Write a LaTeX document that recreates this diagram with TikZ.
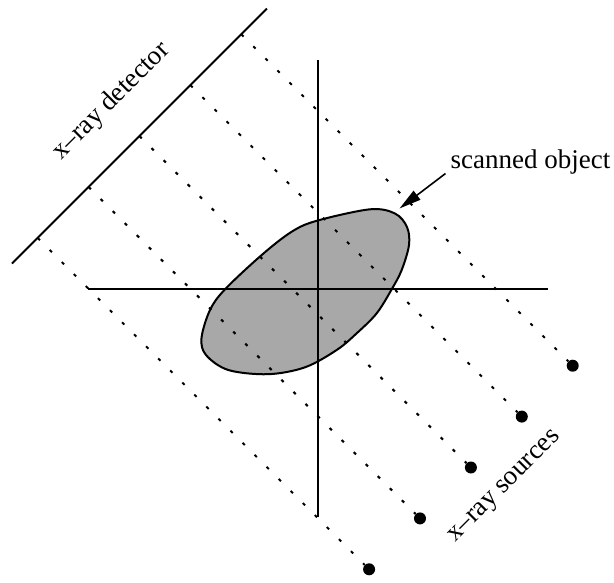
\documentclass[tikz,border=0pt]{standalone}
\usepackage{fontspec}
\setmainfont{Liberation Serif}
\usetikzlibrary{arrows.meta}
\definecolor{objgray}{gray}{0.66}
\begin{document}
\begin{tikzpicture}[x=1pt,y=-1pt,
  ax/.style={line width=2pt},
  ray/.style={line width=2pt, dash pattern=on 3.2pt off 13.84pt},
  src/.style={circle, fill=black, draw=none, inner sep=0pt, minimum size=12pt},
  lbl/.style={font=\fontsize{27}{32}\selectfont, inner sep=0pt},
  obj/.style={line width=2pt, draw=black, fill=objgray},
  pointer/.style={line width=1.6pt, -{Triangle[length=22pt,width=11pt]}}]
\useasboundingbox (0,0) rectangle (614,582);
% scanned object
\draw[obj] plot[smooth cycle, tension=0.55] coordinates {
  (317,220.7) (370,209.3) (395,213.5) (407,227) (409,245) (401.7,270)
  (391.7,289.3) (376.7,313.3) (356.7,333.3) (336.7,350) (305,367.3)
  (268,374.2) (228.3,370) (206,355) (201.5,338) (210,310) (225,289.3)
  (261.7,255) (291.7,231.7)};
% axes
\coordinate (ytop) at (317.5,60);
\coordinate (ybot) at (317.5,517);
\coordinate (xl) at (88,288.5);
\coordinate (xr) at (547.5,288.5);
\draw[ax] (ytop) -- (ybot);
\draw[ax] (xl) -- (xr);
% detector
\coordinate (detA) at (12,263.5);
\coordinate (detB) at (267,8.5);
\draw[ax] (detA) -- (detB);
% sources and rays
\foreach \k in {0,...,4}{
  \node[src] (s\k) at ({572.7-50.9*\k},{365.7+50.9*\k}) {};
  \coordinate (d\k) at ({241.3-50.9*\k},{34.3+50.9*\k});
  \draw[ray] (d\k) -- (s\k);
}
% labels
\node[lbl, rotate=45, anchor=base west] (detl) at (61,161) {x–ray detector};
\node[lbl, rotate=45, anchor=base west] (srcl) at (455,543) {x–ray sources};
\node[lbl, anchor=base west] (objl) at (450.5,168) {scanned object};
\coordinate (atail) at (445.5,173.5);
\coordinate (ahead) at (399.5,208.5);
\draw[pointer] (atail) -- (ahead);
\end{tikzpicture}
\end{document}
